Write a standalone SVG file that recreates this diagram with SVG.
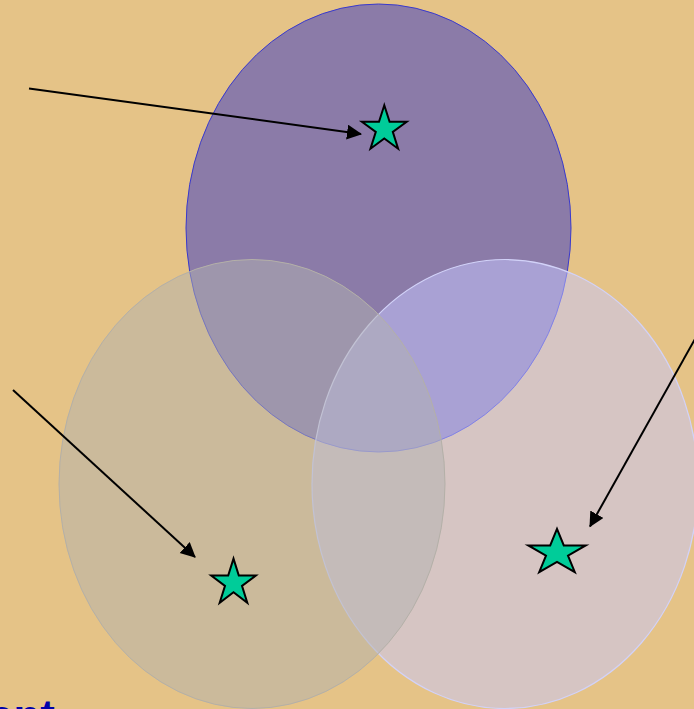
<svg xmlns="http://www.w3.org/2000/svg" width="694" height="709" viewBox="0 0 694 709">
  <style>
    .star { fill: #00CC99; stroke: #000000; stroke-width: 2; }
    .conn { stroke: #000000; stroke-width: 2; fill: none; marker-end: url(#ah); }
    .lbl { font-family: "Liberation Sans", Arial, sans-serif; font-weight: bold; font-size: 44px; fill: #0000AA; }
  </style>
  <defs>
    <marker id="ah" markerWidth="16" markerHeight="16" refX="14" refY="7.5" orient="auto" markerUnits="userSpaceOnUse">
      <path d="M0,0 L15,7.5 L0,15 z" fill="#000000"/>
    </marker>
  </defs>
  <rect x="0" y="0" width="694" height="709" fill="#E5C387"/>

  <g id="set-top">
    <ellipse cx="378.5" cy="228" rx="192.5" ry="224" fill="#8B7BA8" stroke="#3A3ACC" stroke-width="1"/>
  </g>
  <g id="set-right">
    <ellipse cx="505" cy="484" rx="193" ry="224.5" fill="#C8C8FF" fill-opacity="0.5" stroke="#D2D2F8" stroke-width="1.2"/>
  </g>
  <g id="set-left">
    <ellipse cx="252" cy="484" rx="193" ry="224.5" fill="#B1B1B0" fill-opacity="0.5" stroke="#B4B0A8" stroke-width="1"/>
  </g>

  <g id="star-top">
    <path class="star" d="M384.3,105.2 L389.6,121.7 L406.7,121.7 L392.8,131.9 L398.1,148.7 L384.3,138.5 L370.5,148.7 L375.8,131.9 L361.9,121.7 L379,121.7 Z"/>
  </g>
  <g id="star-left">
    <path class="star" d="M233.5,558.6 L238.8,575.5 L255.85,575.5 L242,585.9 L247.3,602.7 L233.5,592.3 L219.7,602.7 L225,585.9 L211.15,575.5 L228.2,575.5 Z"/>
  </g>
  <g id="star-right">
    <path class="star" d="M557,528.8 L563.8,545.4 L585.7,545.4 L568,555.6 L574.8,572.2 L557,562 L539.2,572.2 L546,555.6 L528.3,545.4 L550.2,545.4 Z"/>
  </g>

  <g id="connectors">
    <line class="conn" x1="29" y1="88.5" x2="361" y2="134"/>
    <line class="conn" x1="13" y1="390" x2="195" y2="557"/>
    <line class="conn" x1="700" y1="330" x2="590" y2="526.5"/>
  </g>

  <g id="label">
    <text class="lbl" x="-11" y="731">ent</text>
  </g>
</svg>
